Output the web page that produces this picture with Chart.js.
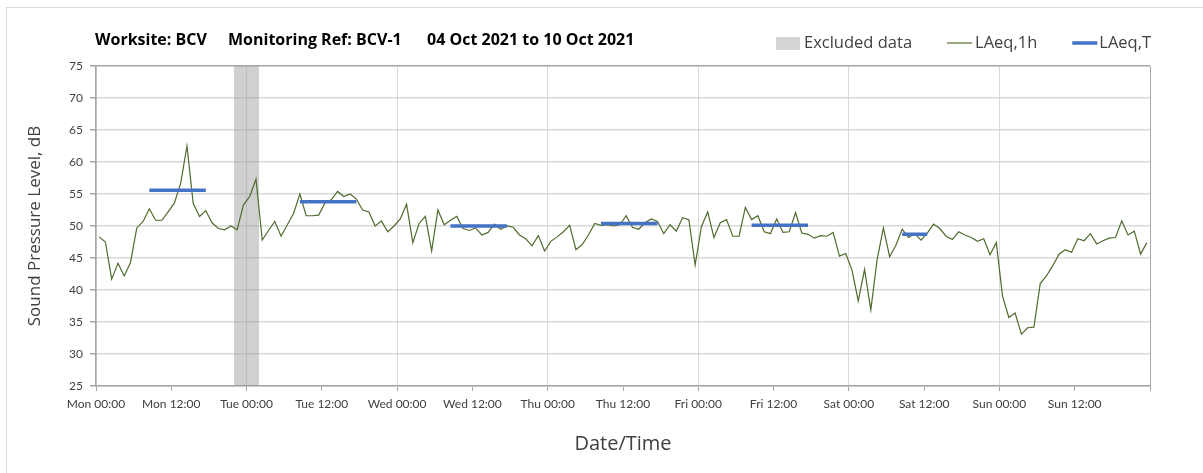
<!DOCTYPE html>
<html>
<head>
<meta charset="utf-8">
<title>BCV-1 noise monitoring</title>
<script src="https://cdn.jsdelivr.net/npm/chart.js@4.4.0/dist/chart.umd.min.js"></script>
<style>
  html, body { margin: 0; padding: 0; background: #fff; overflow: hidden; }
  #wrap { position: relative; width: 1203px; height: 473px; }
  #frame { position: absolute; left: 6px; top: 7px; width: 1260px; height: 520px; border: 1px solid #d9d9d9; }
  #noiseChart { position: absolute; left: 0; top: 0; }
</style>
</head>
<body>
<div id="wrap">
  <div id="frame"></div>
  <canvas id="noiseChart" width="1203" height="473"></canvas>
</div>
<script>
// hourly LAeq,1h, Mon 00:00 .. Sun 23:00
const laeq1h = [
  48.3, 47.5, 41.7, 44.2, 42.2, 44.3, 49.7, 50.7, 52.7, 50.9, 50.9, 52.2,
  53.6, 56.7, 62.5, 53.5, 51.5, 52.4, 50.5, 49.6, 49.4, 50.0, 49.4, 53.3,
  54.6, 57.3, 47.8, 49.3, 50.7, 48.4, 50.2, 52.0, 55.0, 51.6, 51.6, 51.7,
  53.6, 54.1, 55.4, 54.6, 55.0, 54.2, 52.5, 52.2, 50.0, 50.8, 49.1, 50.0,
  51.1, 53.4, 47.4, 50.4, 51.5, 46.1, 52.5, 50.2, 50.9, 51.5, 49.6, 49.3,
  49.7, 48.6, 49.0, 50.3, 49.5, 50.0, 49.8, 48.6, 48.0, 46.9, 48.5, 46.1,
  47.6, 48.3, 49.1, 50.1, 46.3, 47.1, 48.6, 50.4, 50.1, 50.2, 50.0, 50.2,
  51.6, 49.8, 49.5, 50.5, 51.1, 50.7, 48.8, 50.2, 49.2, 51.3, 51.0, 43.9,
  49.9, 52.2, 48.2, 50.5, 51.0, 48.4, 48.4, 52.9, 51.0, 51.6, 49.1, 48.8,
  51.1, 49.0, 49.1, 52.1, 48.9, 48.7, 48.1, 48.5, 48.4, 49.0, 45.3, 45.7,
  43.1, 38.3, 43.2, 36.9, 44.7, 49.7, 45.2, 47.0, 49.5, 48.2, 48.8, 47.8,
  48.9, 50.3, 49.6, 48.4, 47.9, 49.1, 48.6, 48.2, 47.6, 48.0, 45.5, 47.4,
  39.0, 35.7, 36.4, 33.1, 34.1, 34.2, 41.0, 42.2, 43.8, 45.6, 46.3, 45.9,
  48.0, 47.7, 48.8, 47.2, 47.7, 48.1, 48.2, 50.8, 48.6, 49.2, 45.6, 47.4
];

// LAeq,T over each assessment period (hours from Mon 00:00)
const periodStart = [8, 32, 56, 80, 104, 128];
const periodEnd = [18, 42, 66, 90, 114, 133];
const laeqT = [55.6, 53.8, 50.0, 50.4, 50.1, 48.7];

// excluded window, hours from Mon 00:00
const excludedFrom = 22;
const excludedTo = 26;

const tickLabels = [
  'Mon 00:00', 'Mon 12:00', 'Tue 00:00', 'Tue 12:00', 'Wed 00:00', 'Wed 12:00',
  'Thu 00:00', 'Thu 12:00', 'Fri 00:00', 'Fri 12:00', 'Sat 00:00', 'Sat 12:00',
  'Sun 00:00', 'Sun 12:00'
];

const FONT = 'Lato, "Open Sans", sans-serif';
const WIDE = '"Open Sans", Lato, sans-serif';
const TEXT = '#404040';
const GREEN = '#4f6b2e';
const BLUE = '#4472c4';
const BAND = 'rgba(150,150,150,0.45)';

const hourlyPoints = laeq1h.map((v, i) => ({ x: i + 0.5, y: v }));

const periodPoints = [];
periodStart.forEach((s, k) => {
  periodPoints.push({ x: s + 0.5, y: laeqT[k] });
  periodPoints.push({ x: periodEnd[k] - 0.5, y: laeqT[k] });
  periodPoints.push({ x: periodEnd[k], y: null });
});

// heading and legend row above the plot
const headerPlugin = {
  id: 'header',
  afterDraw(chart) {
    const ctx = chart.ctx;
    ctx.save();
    ctx.textBaseline = 'middle';
    ctx.fillStyle = '#000';
    ctx.font = 'bold 16px ' + WIDE;
    ctx.fillText('Worksite: BCV', 95, 40);
    ctx.fillText('Monitoring Ref: BCV-1', 228, 40);
    ctx.fillText('04 Oct 2021 to 10 Oct 2021', 427, 40);

    const y = 43;
    let x = 776;
    ctx.font = '16.5px ' + WIDE;
    ctx.fillStyle = '#d4d4d4';
    ctx.fillRect(x, y - 6, 24, 13);
    x += 28;
    ctx.fillStyle = TEXT;
    ctx.fillText('Excluded data', x, y);
    x += ctx.measureText('Excluded data').width + 35;

    ctx.strokeStyle = GREEN;
    ctx.lineWidth = 1.2;
    ctx.beginPath(); ctx.moveTo(x, y); ctx.lineTo(x + 25, y); ctx.stroke();
    x += 28;
    ctx.fillText('LAeq,1h', x, y);
    x += ctx.measureText('LAeq,1h').width + 35;

    ctx.strokeStyle = BLUE;
    ctx.lineWidth = 3.5;
    ctx.beginPath(); ctx.moveTo(x, y); ctx.lineTo(x + 25, y); ctx.stroke();
    x += 27;
    ctx.fillText('LAeq,T', x, y);
    ctx.restore();
  }
};

const ctx = document.getElementById('noiseChart').getContext('2d');
const chart = new Chart(ctx, {
  type: 'line',
  data: {
    datasets: [
      {
        label: 'LAeq,T',
        data: periodPoints,
        borderColor: BLUE,
        borderWidth: 3.5,
        pointRadius: 0,
        spanGaps: false,
        fill: false
      },
      {
        label: 'LAeq,1h',
        data: hourlyPoints,
        borderColor: GREEN,
        borderWidth: 1.2,
        pointRadius: 0,
        tension: 0,
        fill: false
      },
      {
        label: 'Excluded data',
        data: [{ x: excludedFrom, y: 75 }, { x: excludedTo, y: 75 }],
        borderWidth: 0,
        pointRadius: 0,
        backgroundColor: BAND,
        fill: 'start'
      }
    ]
  },
  options: {
    responsive: false,
    animation: false,
    devicePixelRatio: 1,
    layout: { padding: { left: 0, top: 66, right: 53, bottom: 0 } },
    plugins: {
      legend: { display: false },
      title: { display: false },
      tooltip: { enabled: false }
    },
    scales: {
      x: {
        type: 'linear',
        min: 0,
        max: 168,
        afterFit: s => { s.height = 87; },
        ticks: {
          stepSize: 12,
          autoSkip: false,
          maxRotation: 0,
          padding: 6,
          color: TEXT,
          font: { family: FONT, size: 12 },
          callback: v => tickLabels[v / 12] || ''
        },
        grid: {
          color: c => c.tick.value === 168 ? '#a6a6a6' : (c.tick.value % 24 === 0 ? '#d9d9d9' : 'rgba(0,0,0,0)'),
          lineWidth: 1,
          tickLength: 5,
          tickColor: '#a6a6a6'
        },
        border: { color: '#a6a6a6', width: 1.5 },
        title: {
          display: true,
          text: 'Date/Time',
          color: TEXT,
          font: { family: WIDE, size: 20 },
          padding: { top: 0, bottom: 17 }
        }
      },
      y: {
        min: 25,
        max: 75,
        afterFit: s => { s.width = 96; },
        ticks: {
          stepSize: 5,
          padding: 7,
          color: TEXT,
          font: { family: FONT, size: 12 }
        },
        grid: {
          color: c => c.tick.value === 75 ? '#a6a6a6' : '#d9d9d9',
          lineWidth: 1.5,
          tickLength: 6,
          tickColor: '#a6a6a6'
        },
        border: { color: '#a6a6a6', width: 1.5 },
        title: {
          display: true,
          text: 'Sound Pressure Level, dB',
          color: TEXT,
          font: { family: WIDE, size: 17 },
          padding: { top: 25, bottom: 0 }
        }
      }
    }
  },
  plugins: [headerPlugin]
});
</script>
</body>
</html>
